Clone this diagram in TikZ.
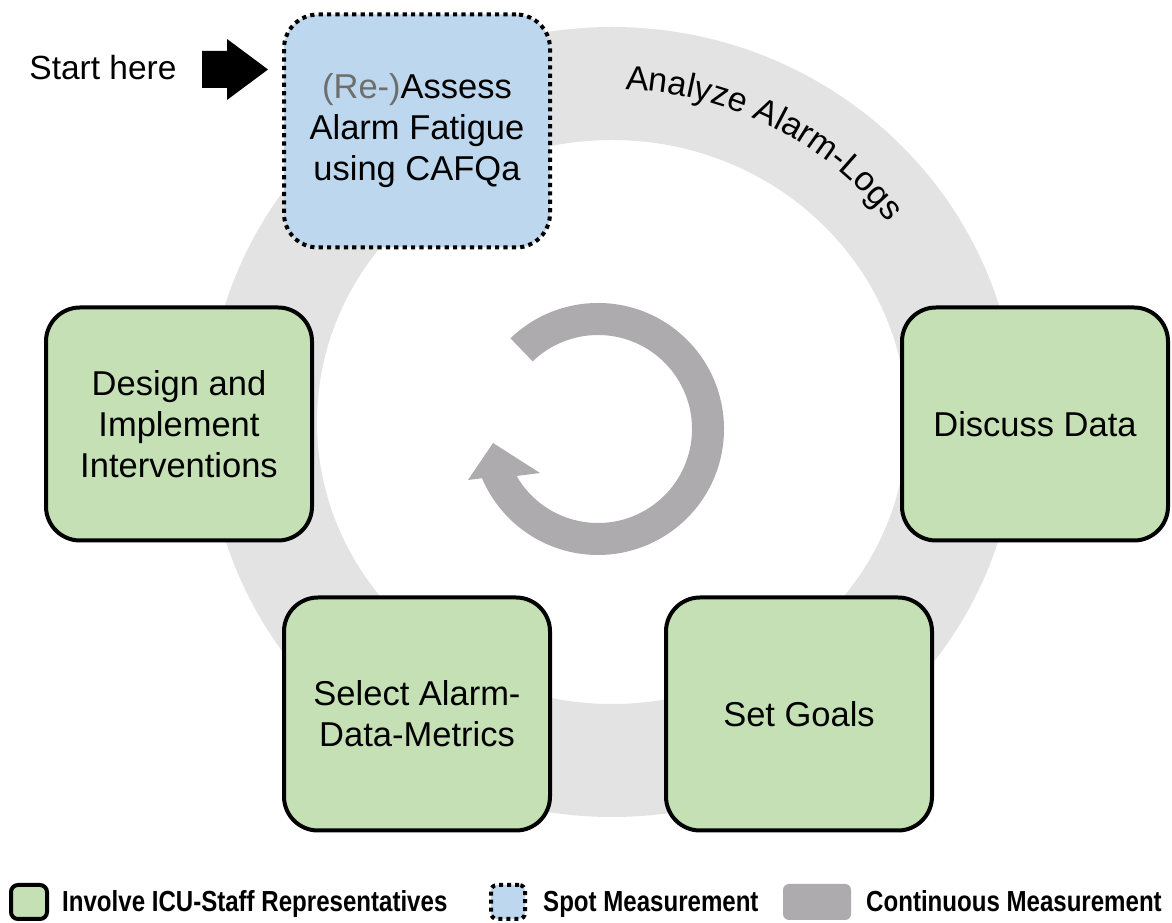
\documentclass[tikz,border=0pt]{standalone}
\usepackage{fontspec}
\setmainfont{Liberation Sans}
\usepackage{graphicx}
\usetikzlibrary{decorations.text,calc}
\definecolor{ringgray}{RGB}{227,227,227}
\definecolor{arrowgray}{RGB}{173,171,173}
\definecolor{boxgreen}{RGB}{197,224,180}
\definecolor{boxblue}{RGB}{189,215,238}
\definecolor{regray}{RGB}{110,110,110}
\begin{document}
\begin{tikzpicture}[x=1pt,y=1pt,
  stage/.style={rectangle, rounded corners=34pt, draw=black, line width=4pt,
    minimum width=266pt, minimum height=233pt, align=center,
    font=\fontsize{34.5}{41}\selectfont, inner sep=0pt},
  greenstage/.style={stage, fill=boxgreen},
  spotstage/.style={stage, fill=boxblue, line cap=butt, dash pattern=on 4.2pt off 4.2pt},
  legtext/.style={anchor=base west, inner sep=0pt, font=\bfseries\fontsize{29}{32}\selectfont}
]
\useasboundingbox (0,0) rectangle (1172,923);
% ring (continuous measurement)
\fill[ringgray, even odd rule] (612,501) ellipse[x radius=405pt, y radius=395pt]
  (612,501) ellipse[x radius=295pt, y radius=282pt];
\path[decorate, decoration={text along path, text align=center,
  text={|\fontsize{34}{40}\selectfont|Analyze Alarm-Logs}}]
  (612,501) ++(110:345pt and 333pt) arc[start angle=110, end angle=14, x radius=345pt, y radius=333pt];
% central cycle arrow
\coordinate (cyc) at (598,494);
\fill[arrowgray] (cyc) ++(134:126pt) arc[start angle=134, end angle=-157, radius=126pt]
  -- (468,443) -- (493,480) -- (540,450)
  -- ($(cyc)+(-150:94pt)$) arc[start angle=-150, end angle=134, radius=94pt] -- cycle;
% stages
\node[spotstage] (assess) at (417,792) {{\color{regray}(Re-)}Assess\\Alarm Fatigue\\using CAFQa};
\node[greenstage] (design) at (179,499) {Design and\\Implement\\Interventions};
\node[greenstage] (discuss) at (1035,499) {Discuss Data};
\node[greenstage] (select) at (417,209) {Select Alarm-\\Data-Metrics};
\node[greenstage] (goals) at (799,209) {Set Goals};
% start
\node[font=\fontsize{33.5}{40}\selectfont, inner sep=0pt] (start) at (103,855) {Start here};
\fill[black] (202,835) -- (227,835) -- (227,823) -- (268,853.5) -- (227,884) -- (227,872) -- (202,872) -- cycle;
% legend
\node[draw=black, line width=4pt, fill=boxgreen, rounded corners=7pt, minimum width=36pt, minimum height=34pt, inner sep=0pt] (leggreen) at (29,21) {};
\node[legtext] (legtxt1) at (62,11) {\scalebox{0.83}[1]{Involve ICU-Staff Representatives}};
\node[draw=black, line width=4pt, line cap=butt, dash pattern=on 4pt off 4pt, fill=boxblue, rounded corners=6pt, minimum width=34pt, minimum height=34pt, inner sep=0pt] (legblue) at (508,21) {};
\node[legtext] (legtxt2) at (543,11) {\scalebox{0.83}[1]{Spot Measurement}};
\node[fill=arrowgray, rounded corners=6pt, minimum width=68pt, minimum height=36pt, inner sep=0pt] (leggray) at (817,21) {};
\node[legtext] (legtxt3) at (866,11) {\scalebox{0.83}[1]{Continuous Measurement}};
\end{tikzpicture}
\end{document}
